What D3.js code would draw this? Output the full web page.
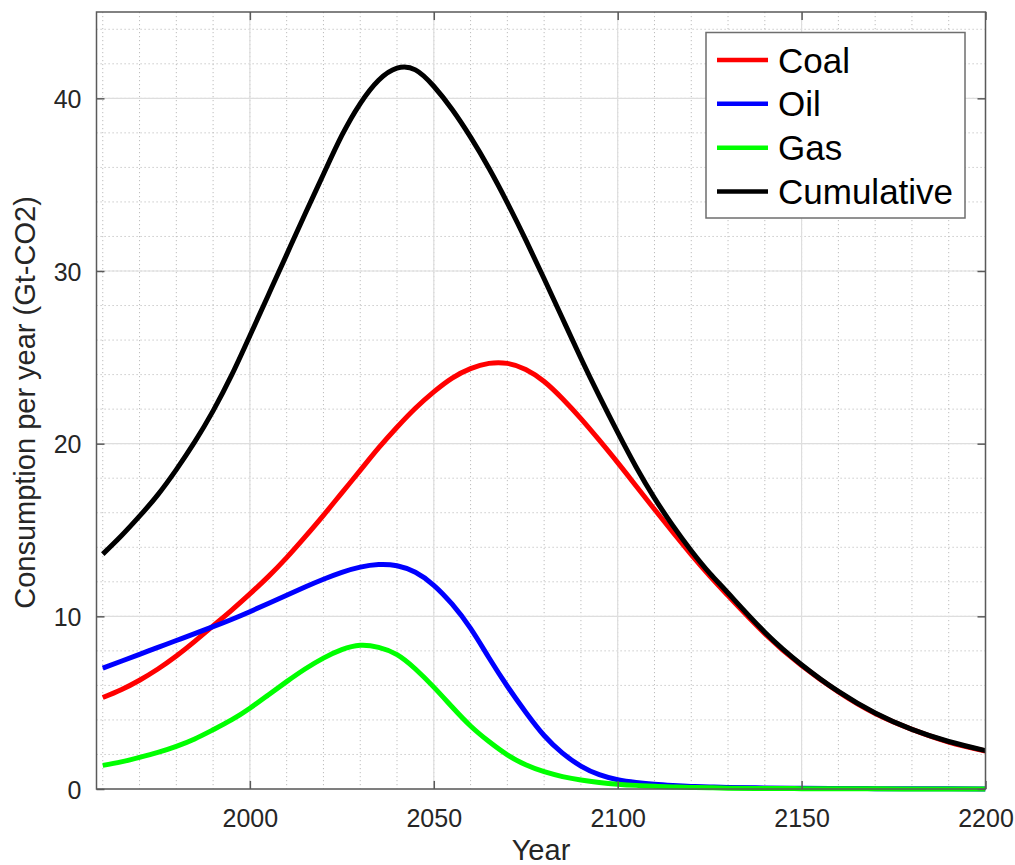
<!DOCTYPE html>
<html>
<head>
<meta charset="utf-8">
<script src="https://cdn.jsdelivr.net/npm/d3@7"></script>
<style>
html, body { margin: 0; padding: 0; background: #ffffff; }
svg { display: block; font-family: "Liberation Sans", Arial, Helvetica, sans-serif; }
</style>
</head>
<body>
<svg id="chart" width="1015" height="865"></svg>
<script>
// ---- data ----
const years = [1960,1965,1970,1975,1980,1985,1990,1995,2000,2005,2010,2015,2020,2025,2030,2035,2040,2045,2050,2055,2060,2065,2070,2075,2080,2085,2090,2095,2100,2105,2110,2115,2120,2125,2130,2140,2150,2160,2170,2180,2190,2200];
const coal = [5.3,5.75,6.3,6.95,7.7,8.55,9.45,10.35,11.3,12.3,13.4,14.6,15.85,17.15,18.45,19.75,20.95,22.05,23.0,23.8,24.35,24.65,24.65,24.3,23.6,22.6,21.45,20.2,18.9,17.55,16.2,14.87,13.58,12.35,11.2,9.0,7.15,5.62,4.37,3.45,2.72,2.2];
const oil = [7.0,7.4,7.8,8.2,8.6,9.0,9.4,9.82,10.27,10.74,11.22,11.7,12.15,12.55,12.85,13.0,12.93,12.55,11.8,10.7,9.3,7.6,5.95,4.45,3.1,2.08,1.33,0.83,0.54,0.38,0.27,0.2,0.15,0.12,0.09,0.06,0.04,0.03,0.02,0.01,0.01,0.0];
const gas = [1.37,1.57,1.83,2.12,2.47,2.9,3.43,4.0,4.68,5.45,6.22,6.95,7.58,8.07,8.32,8.2,7.78,6.95,5.9,4.75,3.65,2.75,1.98,1.4,1.0,0.72,0.52,0.38,0.28,0.21,0.16,0.12,0.09,0.07,0.05,0.03,0.02,0.01,0.01,0.0,0.0,0.0];
const cumulative = [13.6,14.65,15.8,17.05,18.5,20.1,21.9,23.95,26.25,28.6,30.95,33.3,35.6,37.85,39.7,41.05,41.75,41.65,40.7,39.35,37.75,35.95,33.95,31.8,29.55,27.25,24.95,22.75,20.65,18.65,16.85,15.25,13.8,12.5,11.35,9.08,7.2,5.65,4.4,3.45,2.75,2.22];

const seriesNames = ["Coal","Oil","Gas","Cumulative"];
const seriesColors = ["#ff0000","#0000ff","#00ff00","#000000"];
const seriesValues = [coal, oil, gas, cumulative];

const xTicks = [2000,2050,2100,2150,2200];
const yTicks = [0,10,20,30,40];
const xMinor = d3.range(1960, 2200, 10);
const yMinor = d3.range(2, 45, 2);

const xLabel = "Year";
const yLabel = "Consumption per year (Gt-CO2)";

// ---- layout ----
const svg = d3.select("#chart");
const L = 96.5, R = 985.5, T = 12, B = 789;
const x = d3.scaleLinear().domain([1958.3, 2200]).range([L, R]);
const y = d3.scaleLinear().domain([0, 45]).range([B, T]);

const textColor = "#262626";
const axisColor = "#5a5a5a";

// minor grid
const g = svg.append("g");
g.selectAll(".xmin").data(xMinor).join("line")
  .attr("x1", d => x(d)).attr("x2", d => x(d)).attr("y1", T).attr("y2", B)
  .attr("stroke", "#bdbdbd").attr("stroke-width", 1).attr("stroke-dasharray", "1.2,2.8");
g.selectAll(".ymin").data(yMinor).join("line")
  .attr("x1", L).attr("x2", R).attr("y1", d => y(d)).attr("y2", d => y(d))
  .attr("stroke", "#bdbdbd").attr("stroke-width", 1).attr("stroke-dasharray", "1.2,2.8");
// major grid
g.selectAll(".xmaj").data(xTicks).join("line")
  .attr("x1", d => x(d)).attr("x2", d => x(d)).attr("y1", T).attr("y2", B)
  .attr("stroke", "#dedede").attr("stroke-width", 1.2);
g.selectAll(".ymaj").data(yTicks).join("line")
  .attr("x1", L).attr("x2", R).attr("y1", d => y(d)).attr("y2", d => y(d))
  .attr("stroke", "#dedede").attr("stroke-width", 1.2);

// curves
const line = d3.line().x((d, i) => x(years[i])).y(d => y(d)).curve(d3.curveNatural);
svg.append("clipPath").attr("id", "clip").append("rect")
  .attr("x", L).attr("y", T).attr("width", R - L).attr("height", B - T + 3);
const curves = svg.append("g").attr("clip-path", "url(#clip)");
seriesValues.forEach((vals, k) => {
  curves.append("path").datum(vals)
    .attr("d", line)
    .attr("fill", "none")
    .attr("stroke", seriesColors[k])
    .attr("stroke-width", 5)
    .attr("stroke-linejoin", "round")
    .attr("stroke-linecap", "butt");
});

// axes (inward ticks on all sides)
const tickLen = 8;
const fmt = d3.format("d");
const axB = d3.axisBottom(x).tickValues(xTicks).tickSizeInner(-tickLen).tickSizeOuter(0).tickPadding(0).tickFormat(fmt);
const axT = d3.axisTop(x).tickValues(xTicks).tickSizeInner(-tickLen).tickSizeOuter(0).tickFormat("");
const axLft = d3.axisLeft(y).tickValues(yTicks).tickSizeInner(-tickLen).tickSizeOuter(0).tickPadding(0).tickFormat(fmt);
const axRgt = d3.axisRight(y).tickValues(yTicks).tickSizeInner(-tickLen).tickSizeOuter(0).tickFormat("");

function styleAxis(sel) {
  sel.select(".domain").remove();
  sel.selectAll(".tick line").attr("stroke", axisColor).attr("stroke-width", 1.5);
  sel.selectAll(".tick text").attr("fill", textColor).attr("font-size", 25)
    .attr("font-family", "'Liberation Sans', Arial, sans-serif");
}
const gB = svg.append("g").attr("transform", `translate(0,${B})`).call(axB).call(styleAxis);
gB.selectAll(".tick text").attr("y", 0).attr("dy", 38);
svg.append("g").attr("transform", `translate(0,${T})`).call(axT).call(styleAxis);
const gL = svg.append("g").attr("transform", `translate(${L},0)`).call(axLft).call(styleAxis);
gL.selectAll(".tick text").attr("x", -15).attr("dy", "0.36em");
svg.append("g").attr("transform", `translate(${R},0)`).call(axRgt).call(styleAxis);

// box
svg.append("rect").attr("x", L).attr("y", T).attr("width", R - L).attr("height", B - T)
  .attr("fill", "none").attr("stroke", axisColor).attr("stroke-width", 1.5);

// axis labels
svg.append("text").attr("x", (L + R) / 2).attr("y", 860).attr("text-anchor", "middle")
  .attr("fill", textColor).attr("font-size", 29).text(xLabel);
svg.append("text").attr("transform", `translate(35,${(T + B) / 2 + 2}) rotate(-90)`).attr("text-anchor", "middle")
  .attr("fill", textColor).attr("font-size", 29).text(yLabel);

// legend
const lg = svg.append("g");
lg.append("rect").attr("x", 706).attr("y", 32.5).attr("width", 259).attr("height", 185.5)
  .attr("fill", "#ffffff").attr("stroke", "#6e6e6e").attr("stroke-width", 1.5);
const rowY = d3.scalePoint().domain(seriesNames).range([60, 191.5]);
seriesNames.forEach((name, k) => {
  const yy = rowY(name);
  lg.append("line").attr("x1", 717).attr("x2", 768).attr("y1", yy).attr("y2", yy)
    .attr("stroke", seriesColors[k]).attr("stroke-width", 4.5);
  lg.append("text").attr("x", 778).attr("y", yy).attr("dy", "0.36em")
    .attr("fill", "#000000").attr("font-size", 35).text(name);
});
</script>
</body>
</html>
